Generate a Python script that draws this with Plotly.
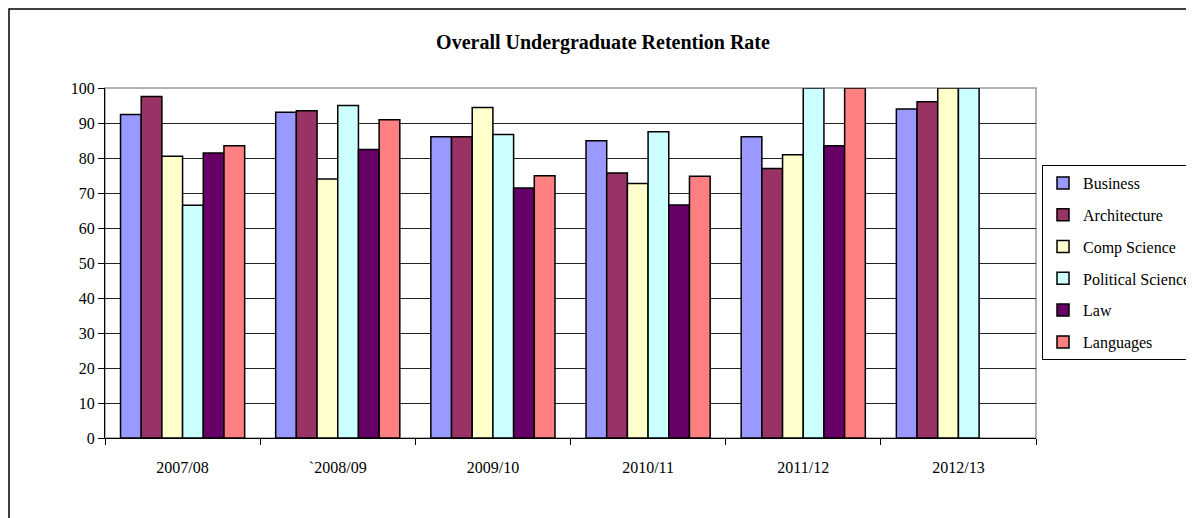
import plotly.graph_objects as go

categories = ["2007/08", "`2008/09", "2009/10", "2010/11", "2011/12", "2012/13"]
business = [92.4, 93.1, 86.1, 84.9, 86.1, 94.0]
architecture = [97.6, 93.5, 86.1, 75.7, 77.0, 96.1]
comp_science = [80.5, 74.0, 94.4, 72.7, 80.9, 100]
political_science = [66.5, 95.0, 86.7, 87.5, 100, 100]
law = [81.4, 82.4, 71.4, 66.6, 83.5, None]
languages = [83.5, 90.9, 74.9, 74.8, 100, None]

series = [
    ("Business", business, "#9999FF"),
    ("Architecture", architecture, "#993366"),
    ("Comp Science", comp_science, "#FFFFCC"),
    ("Political Science", political_science, "#CCFFFF"),
    ("Law", law, "#660066"),
    ("Languages", languages, "#FF8080"),
]

FONT = "Liberation Serif"

fig = go.Figure()
for i, (name, vals, col) in enumerate(series):
    fig.add_trace(go.Bar(
        name=name, x=categories, y=vals,
        marker=dict(color=col, line=dict(color="black", width=1.5)),
        legendgroup=f"g{i}",
    ))

W, H = 1194, 518
fig.update_layout(
    width=W, height=H,
    margin=dict(l=97, r=W - 97 - 931, t=80, b=H - 80 - 350, autoexpand=False),
    paper_bgcolor="white", plot_bgcolor="white",
    barmode="group", bargap=0.2, bargroupgap=0,
    font=dict(family=FONT, size=16, color="black"),
    title=dict(text="<b>Overall Undergraduate Retention Rate</b>",
               x=595 / W, xanchor="center", y=1 - 34 / H, yanchor="middle",
               font=dict(family=FONT, size=20, color="black")),
    legend=dict(x=(1042 - 105) / 931, xanchor="left", y=(438 - 165) / 350, yanchor="top",
                bordercolor="black", borderwidth=1, bgcolor="white",
                font=dict(family=FONT, size=16, color="black"),
                tracegroupgap=8, itemwidth=30),
    showlegend=True,
)

fig.update_xaxes(
    type="category", tickson="boundaries", ticks="outside", ticklen=6,
    tickcolor="black", showline=True, linecolor="black", linewidth=1,
    showgrid=False, ticklabelstandoff=15,
    tickfont=dict(family=FONT, size=16, color="black"),
)
fig.update_yaxes(
    range=[0, 100], dtick=10, ticks="outside", ticklen=6, tickcolor="black",
    showline=True, linecolor="black", linewidth=1,
    showgrid=True, gridcolor="#222222", gridwidth=1,
    tickfont=dict(family=FONT, size=16, color="black"), zeroline=False,
)

# plot area frame (grey top/right)
fig.add_shape(type="rect", xref="paper", yref="paper", x0=0, x1=1, y0=0, y1=1,
              line=dict(color="#999999", width=1.5), layer="below")
# outer chart border
fig.add_shape(type="rect", xref="paper", yref="paper",
              x0=(1 - 97) / 931, x1=1.25, y0=-0.3, y1=1 + (80 - 1) / 350,
              line=dict(color="black", width=1.5))

fig.write_html("out.html")
